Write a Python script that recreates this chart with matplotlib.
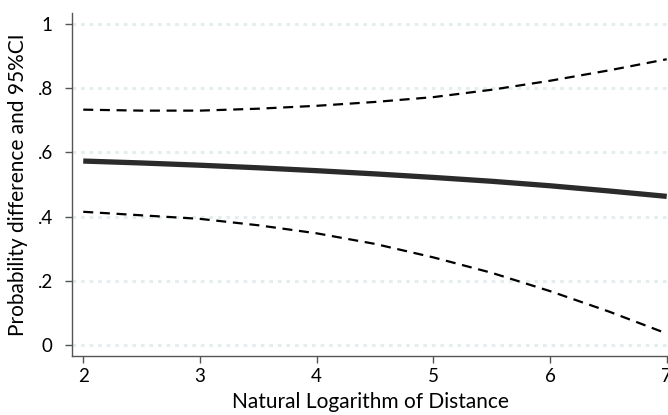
import matplotlib
matplotlib.use("Agg")
import matplotlib.pyplot as plt

# values
log_distance = [2, 2.5, 3, 3.5, 4, 4.5, 5, 5.5, 6, 6.5, 7]
prob_diff = [0.573, 0.567, 0.560, 0.552, 0.543, 0.533, 0.522, 0.510, 0.496, 0.480, 0.463]
ci_upper = [0.733, 0.730, 0.730, 0.736, 0.745, 0.757, 0.772, 0.795, 0.823, 0.855, 0.890]
ci_lower = [0.415, 0.404, 0.393, 0.373, 0.348, 0.315, 0.273, 0.225, 0.168, 0.105, 0.036]

x_ticks = [2, 3, 4, 5, 6, 7]
y_ticks = [0, 0.2, 0.4, 0.6, 0.8, 1]
y_tick_labels = ["0", ".2", ".4", ".6", ".8", "1"]

plt.rcParams["font.family"] = ["Lato", "DejaVu Sans"]

fig = plt.figure(figsize=(6.68, 4.15), dpi=100)
ax = fig.add_axes([0.1082, 0.1422, 0.8918, 0.8265])

# Stata-style dotted grid
for y in y_ticks:
    ax.axhline(y, color="#e3eeee", lw=2.2, ls=(0, (1.2, 1.6)), zorder=0)

ax.plot(log_distance, ci_upper, color="black", lw=1.6, ls=(0, (4.5, 3)))
ax.plot(log_distance, ci_lower, color="black", lw=1.6, ls=(0, (4.5, 3)))
ax.plot(log_distance, prob_diff, color="#2b2b2b", lw=3.8, solid_capstyle="butt")

ax.set_xlim(1.906, 7.011)
ax.set_ylim(-0.034, 1.034)
ax.set_xticks(x_ticks)
ax.set_yticks(y_ticks)
ax.set_yticklabels(y_tick_labels)

for side in ("top", "right"):
    ax.spines[side].set_visible(False)
for side in ("left", "bottom"):
    ax.spines[side].set_color("#555555")
    ax.spines[side].set_linewidth(1.0)

ax.tick_params(axis="both", direction="out", length=5, width=1, color="#555555",
               labelsize=13.5)
ax.tick_params(axis="x", pad=4)
ax.tick_params(axis="y", pad=9)

ax.set_xlabel("Natural Logarithm of Distance", fontsize=15, va="center")
ax.set_ylabel("Probability difference and 95%CI", fontsize=15, va="center")
ax.xaxis.set_label_coords(0.5, -0.134)
ax.yaxis.set_label_coords(-0.091, 0.5)

fig.savefig("out.png", dpi=100)
plt.close(fig)
